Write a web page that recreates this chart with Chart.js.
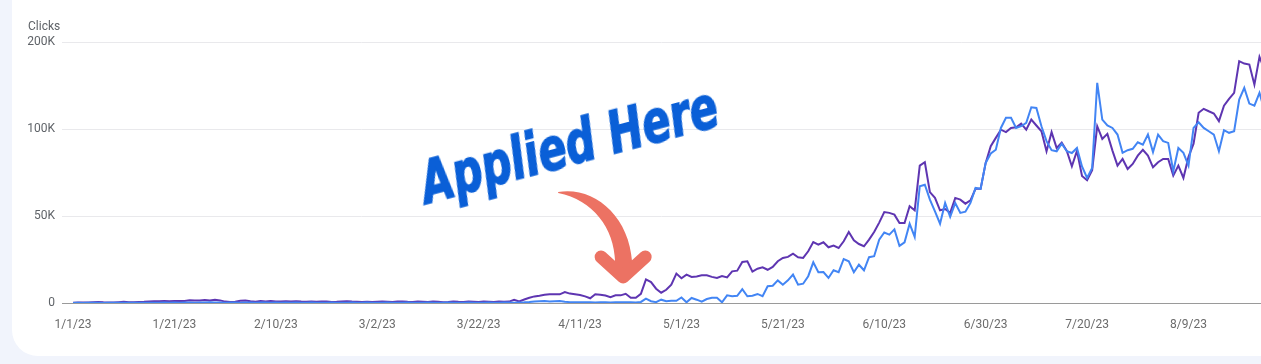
<!DOCTYPE html>
<html>
<head>
<meta charset="utf-8">
<title>Clicks</title>
<script src="https://cdn.jsdelivr.net/npm/chart.js@4.4.0/dist/chart.umd.min.js"></script>
<style>
  html, body { margin: 0; padding: 0; }
  body {
    width: 1261px; height: 364px; overflow: hidden; position: relative;
    background: #f1f4fc; font-family: Roboto, sans-serif;
  }
  .tarjeta {
    position: absolute; left: 12px; top: -40px; width: 1300px; height: 396px;
    background: #fff; border-radius: 26px;
  }
  #grafico { position: absolute; left: 0; top: 0; }
  .titulo-eje {
    position: absolute; left: 28px; top: 19px;
    font-size: 12px; line-height: 14px; color: #5f6368;
  }
  .nota {
    position: absolute; left: 569px; top: 145px; white-space: nowrap;
    transform: translate(-50%, -50%) rotate(-15deg) scaleX(0.8);
    font: italic bold 58px 'DejaVu Sans Condensed', sans-serif; color: #0a5fd7;
    -webkit-text-stroke: 1.5px #0a5fd7;
  }
</style>
</head>
<body>
<div class="tarjeta"></div>
<canvas id="grafico" width="1261" height="364"></canvas>
<div class="titulo-eje">Clicks</div>
<div class="nota">Applied Here</div>

<script>
/* ================================
   DATOS (un valor por día desde 1/1/23)
   ================================ */

// Etiquetas del eje X (cada 20 días)
const diasMarcas = [0, 20, 40, 60, 80, 100, 120, 140, 160, 180, 200, 220];
const etiquetasX = ['1/1/23', '1/21/23', '2/10/23', '3/2/23', '3/22/23', '4/11/23',
  '5/1/23', '5/21/23', '6/10/23', '6/30/23', '7/20/23', '8/9/23'];

// Etiquetas del eje Y (tal como aparecen)
const etiquetasY = ['0', '50K', '100K', '200K'];

// Serie morada
const valoresMorado = [
  200, 250, 300, 250, 400, 600, 400, 300, 350, 500,
  700, 450, 400, 600, 700, 900, 1000, 1000, 1100, 1000,
  1100, 1200, 1200, 1600, 1500, 1400, 1700, 1500, 1900, 1500,
  800, 600, 700, 1300, 1400, 1000, 700, 1200, 900, 1100,
  900, 800, 1000, 900, 1000, 800, 700, 900, 700, 900,
  800, 600, 700, 900, 1000, 800, 700, 600, 700, 600,
  700, 800, 700, 600, 800, 900, 700, 600, 800, 700,
  600, 800, 700, 500, 600, 900, 700, 600, 800, 700,
  600, 800, 700, 600, 800, 700, 800, 1900, 900, 2000,
  3000, 3800, 4200, 4700, 5000, 5100, 5000, 6300, 5400, 5000,
  4600, 3800, 2700, 5000, 4700, 4300, 3400, 4400, 4400, 5300,
  3000, 3000, 5300, 13600, 12000, 8200, 5900, 7600, 10500, 16900,
  14200, 16300, 15000, 15200, 15900, 15900, 15000, 14400, 15500, 14700,
  18200, 18600, 23600, 24000, 18000, 19700, 20500, 19100, 20700, 24000,
  25900, 26500, 28300, 26300, 25900, 29700, 35000, 33500, 34900, 32000,
  33000, 31600, 35500, 40800, 36000, 33900, 32600, 36400, 40800, 46200,
  52300, 51800, 50800, 46000, 46000, 55600, 53300, 79000, 80900, 63700,
  60400, 53300, 54000, 51800, 60400, 59400, 57100, 59000, 65600, 65600,
  80500, 90100, 94900, 99600, 98200, 100600, 101000, 103100, 99600, 105400,
  102000, 98700, 87200, 98200, 89100, 92200, 87400, 78500, 87400, 73000,
  70600, 76300, 101600, 94300, 97200, 87600, 79000, 82800, 77000, 79900,
  84700, 88000, 84700, 78000, 80900, 82800, 82800, 73200, 79000, 71900,
  84000, 91600, 109300, 111600, 110200, 108900, 104500, 113400, 117300, 120800,
  139000, 137600, 137000, 125500, 141500, 134000
];

// Serie azul
const valoresAzul = [
  0, 100, 50, 100, 200, 100, 50, 100, 150, 100,
  100, 200, 150, 100, 200, 150, 100, 200, 250, 200,
  300, 200, 250, 300, 200, 350, 300, 400, 300, 250,
  200, 300, 250, 200, 300, 250, 200, 300, 250, 200,
  250, 200, 300, 200, 250, 200, 150, 250, 200, 150,
  200, 250, 200, 150, 200, 300, 200, 150, 250, 200,
  200, 150, 250, 200, 150, 200, 250, 200, 150, 200,
  250, 200, 150, 200, 250, 200, 150, 200, 300, 200,
  150, 200, 250, 200, 150, 300, 250, 200, 300, 400,
  600, 900, 1000, 1100, 900, 1000, 1100, 750, 500, 400,
  400, 500, 400, 300, 450, 400, 350, 500, 400, 450,
  400, 300, 600, 2500, 1000, 500, 1900, 1000, 1300, 1300,
  3200, 400, 2900, 1900, 750, 2300, 3000, 3000, 400, 4400,
  3900, 4100, 8000, 3900, 4200, 5200, 3900, 9600, 9900, 13000,
  10500, 13000, 16300, 10500, 11100, 15400, 23400, 17700, 17800, 14400,
  18800, 17700, 25300, 24000, 17700, 22000, 18800, 26300, 26900, 36400,
  40500, 39300, 42300, 32800, 34900, 45600, 38000, 67100, 68000, 59400,
  52700, 45600, 57500, 49500, 57500, 51800, 52500, 57500, 66100, 65600,
  80500, 85900, 88100, 100600, 106400, 106400, 100600, 101600, 103500, 112500,
  112100, 101600, 93000, 87800, 87200, 91500, 87200, 86200, 89100, 78500,
  71900, 77600, 126500, 105400, 102000, 100600, 96800, 86300, 87800, 88600,
  92400, 91000, 96800, 86700, 96800, 93000, 92000, 75700, 89100, 86300,
  79000, 100600, 103900, 100600, 98700, 96800, 87200, 99300, 97800, 98700,
  116900, 123600, 114600, 113400, 120800, 110200
];

// Punto donde apunta la flecha (día, valor)
const flechaDia = 108.5;
const flechaValor = 11500;

/* ================================
   FLECHA (plugin propio)
   ================================ */
const flechaPlugin = {
  id: 'flecha',
  afterDatasetsDraw(chart) {
    const { ctx, scales } = chart;
    const px = scales.x.getPixelForValue(flechaDia);
    const py = scales.y.getPixelForValue(flechaValor);
    ctx.save();
    ctx.fillStyle = '#ec7263';
    ctx.strokeStyle = '#ec7263';

    // cuerpo curvo
    ctx.beginPath();
    ctx.moveTo(px - 65, py - 91);
    ctx.bezierCurveTo(px - 30, py - 97, px + 6, py - 68, px + 9, py - 21);
    ctx.lineTo(px - 8, py - 21);
    ctx.bezierCurveTo(px - 9, py - 55, px - 30, py - 83, px - 65, py - 90);
    ctx.closePath();
    ctx.fill();

    ctx.beginPath();
    ctx.moveTo(px - 8, py - 22);
    ctx.lineTo(px + 9, py - 22);
    ctx.lineTo(px + 4, py - 8);
    ctx.lineTo(px - 4, py - 8);
    ctx.closePath();
    ctx.fill();

    // punta
    ctx.lineWidth = 13;
    ctx.lineCap = 'round';
    ctx.lineJoin = 'round';
    ctx.beginPath();
    ctx.moveTo(px - 22, py - 26);
    ctx.lineTo(px, py - 6);
    ctx.lineTo(px + 22, py - 26);
    ctx.stroke();
    ctx.restore();
  }
};

/* ================================
   GRÁFICO
   ================================ */
const ctx = document.getElementById('grafico').getContext('2d');

new Chart(ctx, {
  type: 'line',
  data: {
    datasets: [
      {
        label: 'Clicks',
        data: valoresAzul.map((v, i) => ({ x: i, y: v })),
        borderColor: '#4285f4',
        borderWidth: 2,
        pointRadius: 0,
        tension: 0,
        fill: false
      },
      {
        label: 'Impressions',
        data: valoresMorado.map((v, i) => ({ x: i, y: v })),
        borderColor: '#5e35b1',
        borderWidth: 2,
        pointRadius: 0,
        tension: 0,
        fill: false
      }
    ]
  },
  options: {
    responsive: false,
    animation: false,
    layout: { padding: { top: 42, left: 0, right: 0, bottom: 0 } },
    plugins: {
      legend: { display: false },
      tooltip: { enabled: false }
    },
    scales: {
      x: {
        type: 'linear',
        min: -2.17,
        max: 234.3,
        afterBuildTicks: (scale) => {
          scale.ticks = diasMarcas.map(v => ({ value: v }));
        },
        afterFit: (scale) => { scale.height = 61; },
        grid: { display: false, drawTicks: false },
        border: { display: true, color: '#9a9a9a', width: 1 },
        ticks: {
          autoSkip: false,
          maxRotation: 0,
          padding: 15,
          color: '#6b6b6b',
          font: { family: 'Roboto', size: 12 },
          callback: (value, index) => etiquetasX[index]
        }
      },
      y: {
        min: 0,
        max: 150000,
        afterFit: (scale) => { scale.width = 62; },
        grid: {
          drawTicks: false,
          color: (c) => (c.tick && c.tick.value === 0 ? 'rgba(0,0,0,0)' : '#e9e9ec')
        },
        border: { display: false },
        ticks: {
          stepSize: 50000,
          padding: 7,
          color: '#5f6368',
          font: { family: 'Roboto', size: 12 },
          callback: (value, index) => etiquetasY[index]
        }
      }
    }
  },
  plugins: [flechaPlugin]
});
</script>
</body>
</html>
